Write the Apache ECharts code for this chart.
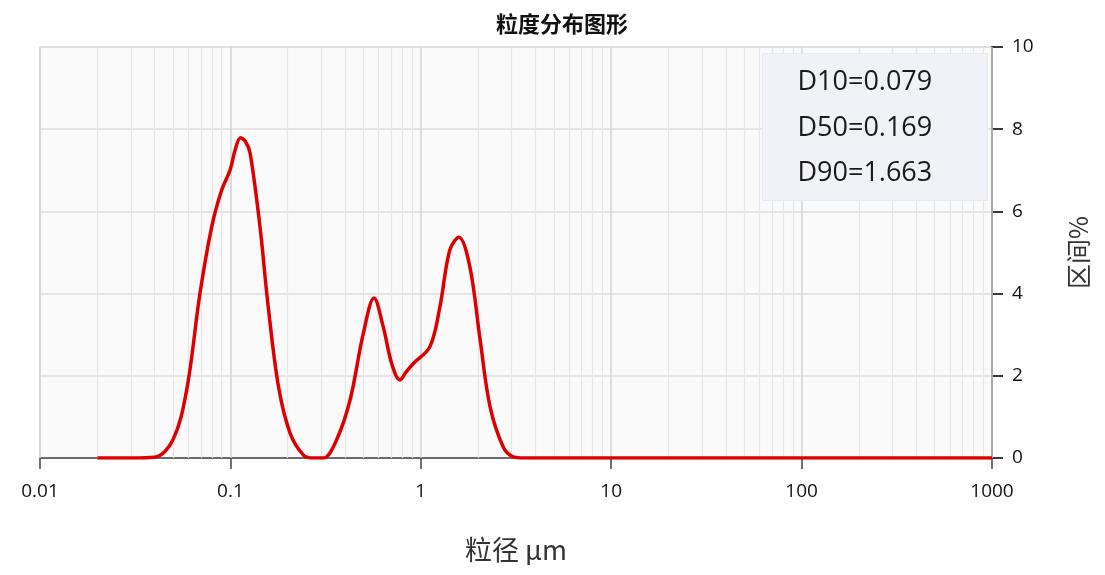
<!DOCTYPE html>
<html>
<head>
<meta charset="utf-8">
<script src="https://cdn.jsdelivr.net/npm/echarts@6/dist/echarts.min.js"></script>
<style>html,body{margin:0;padding:0;background:#fff;}#c{width:1105px;height:575px;}</style>
</head>
<body>
<div id="c"></div>
<script>
// particle size (μm) and interval percentage (%)
const sizes = [0.02, 0.03, 0.04, 0.05, 0.0589, 0.0692, 0.0798, 0.090, 0.0995, 0.106, 0.113, 0.120, 0.127, 0.143, 0.158, 0.179, 0.206, 0.242, 0.27, 0.308, 0.361, 0.425, 0.499, 0.568, 0.635, 0.703, 0.777, 0.84, 0.914, 1.117, 1.26, 1.42, 1.585, 1.81, 2.05, 2.31, 2.71, 3.06, 3.5, 10, 100, 1000];
const percents = [0, 0, 0.02, 0.45, 1.65, 4.0, 5.63, 6.52, 7.0, 7.5, 7.79, 7.7, 7.41, 5.63, 3.68, 1.73, 0.6, 0.07, 0, 0, 0.44, 1.41, 3.03, 3.89, 3.19, 2.3, 1.9, 2.1, 2.3, 2.71, 3.68, 5.06, 5.37, 4.65, 2.87, 1.25, 0.27, 0.03, 0, 0, 0, 0];
const xTickLabels = ['0.01', '0.1', '1', '10', '100', '1000'];
const statLabels = ['D10=0.079', 'D50=0.169', 'D90=1.663'];
const titleText = '粒度分布图形';
const xName = '粒径 μm';
const yName = '区间%';

const curve = sizes.map((s, i) => [s, percents[i]]);

// minor log grid positions (2..9 of each decade)
const minorLines = [];
for (let d = -2; d < 3; d++) {
  for (let k = 2; k <= 9; k++) minorLines.push({ xAxis: k * Math.pow(10, d) });
}
const majorLines = xTickLabels.map(v => ({ xAxis: parseFloat(v) }));

const chart = echarts.init(document.getElementById('c'));
const numFont = '"Open Sans", "Noto Sans", sans-serif';
const cjkFont = '"Noto Sans CJK SC", sans-serif';
chart.setOption({
  animation: false,
  title: {
    text: titleText,
    left: 557, top: 8, textAlign: 'center',
    textStyle: { fontSize: 22, fontWeight: 'bold', color: '#111', fontFamily: cjkFont }
  },
  grid: { left: 40, right: 113, top: 47, bottom: 117, show: true, backgroundColor: '#fafafa', borderColor: '#dedede', borderWidth: 1 },
  xAxis: {
    type: 'log', logBase: 10, min: 0.01, max: 1000,
    name: xName, nameLocation: 'middle', nameGap: 78,
    nameTextStyle: { fontSize: 27, color: '#333', fontFamily: cjkFont },
    axisLine: { onZero: false, lineStyle: { color: '#444', width: 1.5 } },
    axisTick: { show: true, length: 11, lineStyle: { color: '#444', width: 1.5 } },
    axisLabel: { fontSize: 19, color: '#111', margin: 24, fontFamily: numFont,
      formatter: v => { const i = Math.round(Math.log10(v)) + 2; return xTickLabels[i] !== undefined ? xTickLabels[i] : ''; } },
    splitLine: { show: false },
    minorTick: { show: false }
  },
  yAxis: {
    type: 'value', position: 'right', min: 0, max: 10, interval: 2,
    name: yName, nameLocation: 'middle', nameGap: 74, nameRotate: 90,
    nameTextStyle: { fontSize: 25, color: '#333', fontFamily: cjkFont },
    axisLine: { show: true, lineStyle: { color: '#222', width: 1.8 } },
    axisTick: { show: true, inside: false, length: 11, lineStyle: { color: '#222', width: 1.8 } },
    axisLabel: { fontSize: 19, color: '#111', margin: 20, fontFamily: numFont },
    splitLine: { show: true, lineStyle: { color: '#dcdcdc', width: 1.5 } }
  },
  graphic: [{
    type: 'group', left: 762, top: 53, z: 100,
    children: [
      { type: 'rect', z: 100, shape: { x: 0, y: 0, width: 225, height: 147 }, style: { fill: '#f1f1f8', stroke: '#e8e8f0', lineWidth: 1 } }
    ].concat(statLabels.map((t, i) => ({
      type: 'text', z: 101, x: 35, y: 29 + i * 45.5,
      style: { text: t, fontSize: 27, fill: '#1a1a1a', fontFamily: numFont, verticalAlign: 'middle' }
    })))
  }],
  series: [
    {
      type: 'line', data: [], silent: true,
      markLine: { silent: true, symbol: ['none', 'none'], label: { show: false },
        lineStyle: { color: '#e6e6e6', width: 1.2, type: 'solid' }, data: minorLines }
    },
    {
      type: 'line', data: [], silent: true,
      markLine: { silent: true, symbol: ['none', 'none'], label: { show: false },
        lineStyle: { color: '#d2d2d2', width: 1.5, type: 'solid' }, data: majorLines }
    },
    {
      type: 'line', data: curve, smooth: 0.35, showSymbol: false, symbol: 'none',
      lineStyle: { color: '#dd0000', width: 3.5 }, z: 5
    }
  ]
});
</script>
</body>
</html>
